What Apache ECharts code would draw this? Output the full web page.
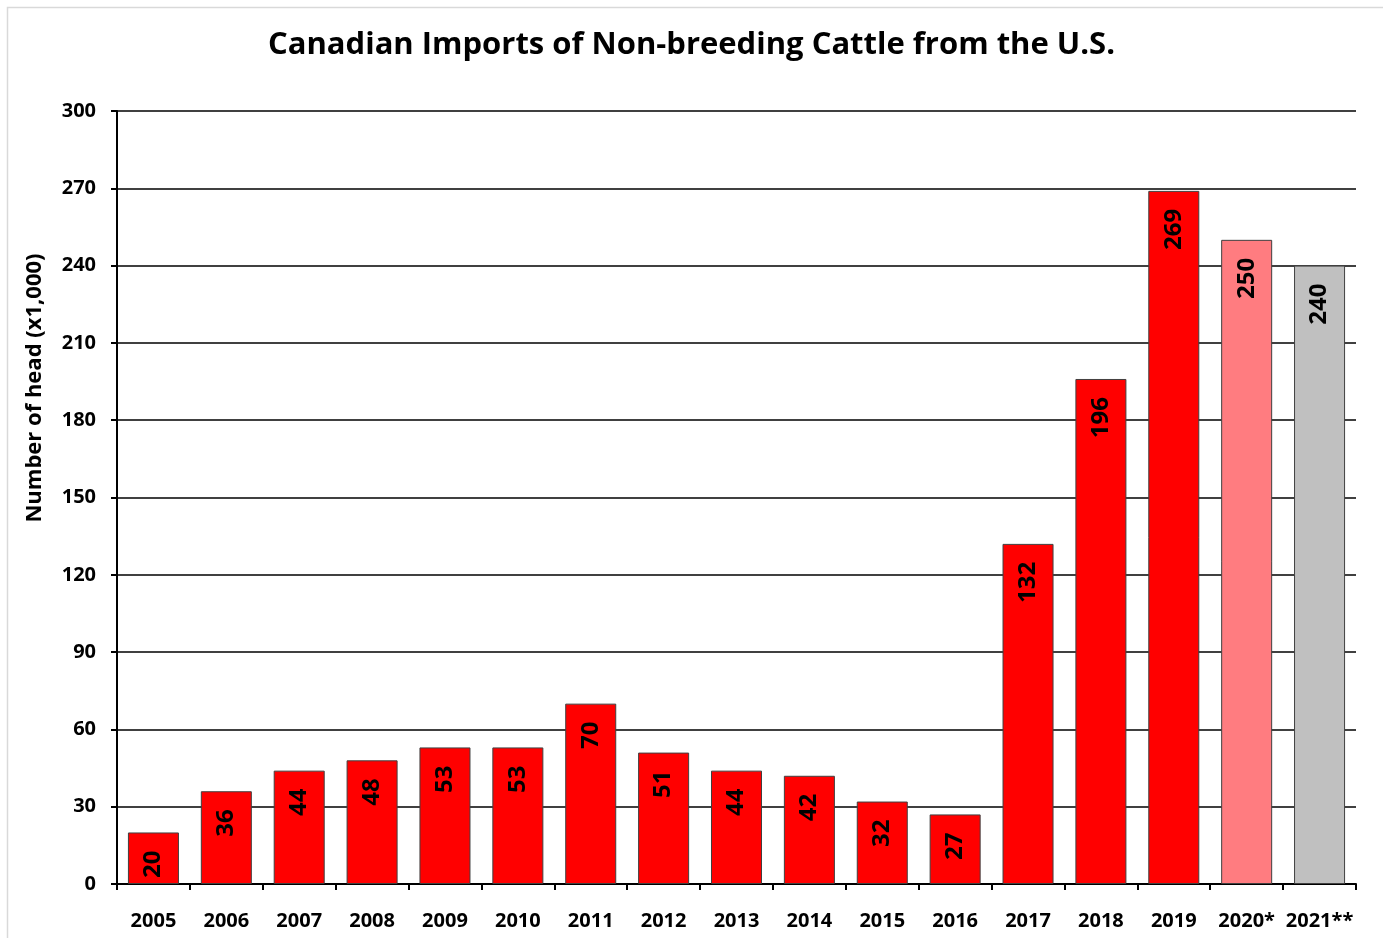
<!DOCTYPE html>
<html>
<head>
<meta charset="utf-8">
<script src="https://cdn.jsdelivr.net/npm/echarts@6/dist/echarts.min.js"></script>
<style>html,body{margin:0;padding:0;background:#fff}#c{width:1383px;height:938px}</style>
</head>
<body>
<div id="c"></div>
<script>
const years = ['2005','2006','2007','2008','2009','2010','2011','2012','2013','2014','2015','2016','2017','2018','2019','2020*','2021**'];
const imports = [20,36,44,48,53,53,70,51,44,42,32,27,132,196,269,250,240];
const yTicks = [0,30,60,90,120,150,180,210,240,270,300];
const barColors = ['#FF0000','#FF0000','#FF0000','#FF0000','#FF0000','#FF0000','#FF0000','#FF0000','#FF0000','#FF0000','#FF0000','#FF0000','#FF0000','#FF0000','#FF0000','#FF7C80','#C0C0C0'];
const titleText = 'Canadian Imports of Non-breeding Cattle from the U.S.';
const yName = 'Number of head (x1,000)';

const FONT = '"Open Sans", "Noto Sans", sans-serif';
const chart = echarts.init(document.getElementById('c'));
chart.setOption({
  animation: false,
  backgroundColor: '#fff',
  title: {
    text: titleText, left: 'center', top: 25,
    textStyle: {fontFamily: FONT, fontWeight: 'bold', fontSize: 31, color: '#000'}
  },
  graphic: [
    {type: 'rect', shape: {x: 7.5, y: 7.5, width: 1400, height: 960}, style: {fill: 'none', stroke: '#d9d9d9', lineWidth: 1.5}, silent: true},
    {type: 'text', x: 35, y: 388, rotation: Math.PI / 2,
     style: {text: yName, fontFamily: FONT, fontWeight: 'bold', fontSize: 22, fill: '#000', align: 'center', verticalAlign: 'middle'}}
  ],
  grid: {left: 117, right: 27, top: 111, bottom: 54, containLabel: false},
  xAxis: {
    type: 'category', data: years,
    axisLine: {show: true, lineStyle: {color: '#000', width: 2}},
    axisTick: {show: true, alignWithLabel: false, length: 6, lineStyle: {color: '#000', width: 2}},
    axisLabel: {fontFamily: FONT, fontWeight: 'bold', fontSize: 20, color: '#000', margin: 27, interval: 0}
  },
  yAxis: {
    type: 'value', min: yTicks[0], max: yTicks[yTicks.length - 1], interval: 30,
    axisLine: {show: true, lineStyle: {color: '#000', width: 2}},
    axisTick: {show: true, length: 6, lineStyle: {color: '#000', width: 2}},
    splitLine: {show: true, lineStyle: {color: '#000', width: 1.5}},
    axisLabel: {fontFamily: FONT, fontWeight: 'bold', fontSize: 20, color: '#000', margin: 21}
  },
  series: [{
    type: 'bar',
    barCategoryGap: '30%',
    data: imports.map((v, i) => ({value: v, itemStyle: {color: barColors[i]}})),
    itemStyle: {borderColor: '#404040', borderWidth: 1},
    label: {
      show: true, position: 'insideTop', rotate: 90, distance: 18,
      align: 'right', verticalAlign: 'middle',
      fontFamily: FONT, fontWeight: 'bold', fontSize: 24, color: '#000'
    }
  }]
});
</script>
</body>
</html>
